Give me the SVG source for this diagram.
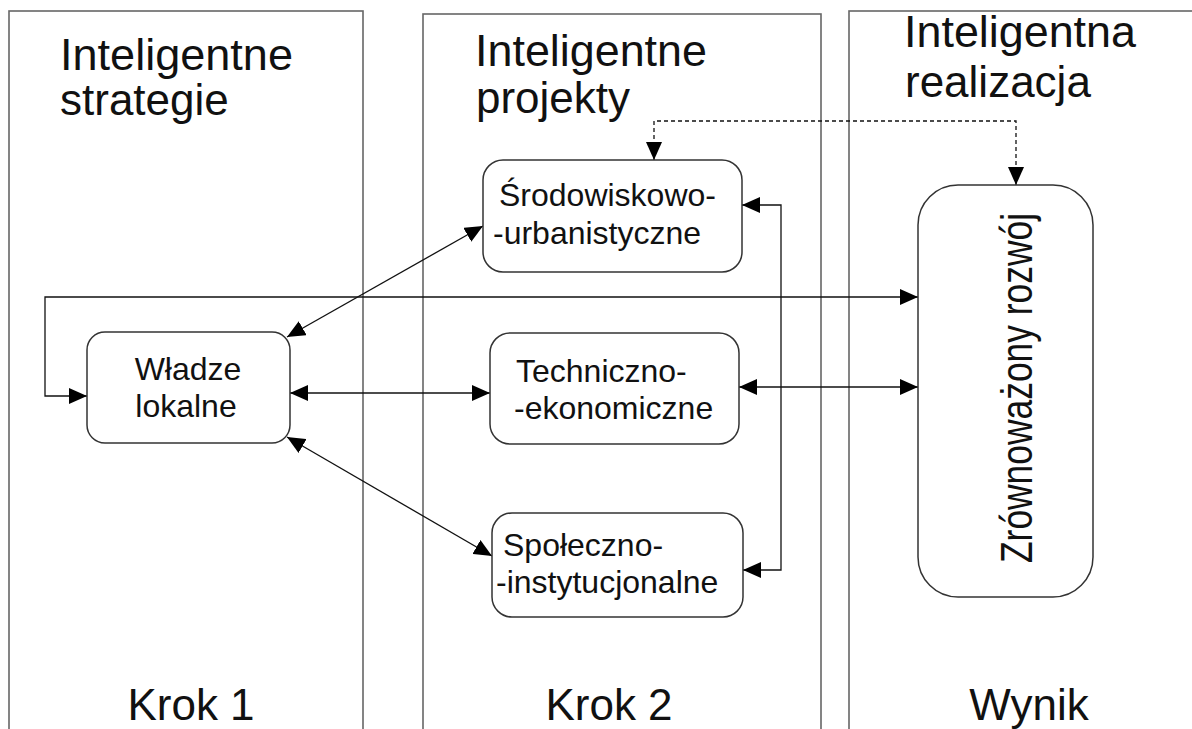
<svg xmlns="http://www.w3.org/2000/svg" width="1192" height="729" viewBox="0 0 1192 729">
<defs>
<marker id="ah" markerUnits="userSpaceOnUse" markerWidth="19" markerHeight="16" refX="18" refY="8" orient="auto-start-reverse" viewBox="0 0 19 16">
<path d="M0,0 L18,8 L0,16 z" fill="#000"/>
</marker>
<style>
.lane{fill:#fff;stroke:#666;stroke-width:1.6}
.node{fill:#fff;stroke:#333;stroke-width:1.5}
.hdr{font-family:"Liberation Sans",Arial,sans-serif;font-size:44px;fill:#111}
.lbl{font-family:"Liberation Sans",Arial,sans-serif;font-size:32px;fill:#111}
.con{fill:none;stroke:#111;stroke-width:1.3;marker-start:url(#ah);marker-end:url(#ah)}
.dash{stroke-dasharray:4 3}
</style>
</defs>
<rect width="1192" height="729" fill="#fff"/>
<g id="lanes">
<g id="lane1">
<rect class="lane" x="9" y="11" width="354" height="740"/>
<text class="hdr" x="60" y="70" textLength="233" lengthAdjust="spacingAndGlyphs">Inteligentne</text>
<text class="hdr" x="60" y="115">strategie</text>
<text class="hdr" x="191" y="720" text-anchor="middle">Krok 1</text>
</g>
<g id="lane2">
<rect class="lane" x="423" y="14" width="398" height="740"/>
<text class="hdr" x="475" y="66" textLength="232" lengthAdjust="spacingAndGlyphs">Inteligentne</text>
<text class="hdr" x="476" y="113">projekty</text>
<text class="hdr" x="609" y="720" text-anchor="middle">Krok 2</text>
</g>
<g id="lane3">
<rect class="lane" x="849" y="11" width="360" height="740"/>
<text class="hdr" x="904" y="47" textLength="232" lengthAdjust="spacingAndGlyphs">Inteligentna</text>
<text class="hdr" x="905" y="97">realizacja</text>
<text class="hdr" x="1029" y="720" text-anchor="middle">Wynik</text>
</g>
</g>
<g id="connectors">
<path class="con dash" d="M654,160 V121 H1016 V185"/>
<path class="con" d="M287,337 L483,226"/>
<path class="con" d="M918,297 H45 V396 H87"/>
<path class="con" d="M290,393 H490"/>
<path class="con" d="M739,387 H918"/>
<path class="con" d="M287,437 L492,556"/>
<path class="con" d="M742,205 H781 V570 H743"/>
</g>
<g id="wladze">
<rect class="node" x="87" y="332" width="203" height="111" rx="18"/>
<text class="lbl" x="188" y="380" text-anchor="middle">Władze</text>
<text class="lbl" x="186" y="417" text-anchor="middle">lokalne</text>
</g>
<g id="srodowiskowo">
<rect class="node" x="483" y="160" width="259" height="112" rx="20"/>
<text class="lbl" x="499" y="206">Środowiskowo-</text>
<text class="lbl" x="493" y="244">-urbanistyczne</text>
</g>
<g id="techniczno">
<rect class="node" x="490" y="333" width="249" height="111" rx="20"/>
<text class="lbl" x="516" y="382">Techniczno-</text>
<text class="lbl" x="514" y="419">-ekonomiczne</text>
</g>
<g id="spoleczno">
<rect class="node" x="492" y="513" width="251" height="104" rx="20"/>
<text class="lbl" x="503" y="556">Społeczno-</text>
<text class="lbl" x="496" y="593">-instytucjonalne</text>
</g>
<g id="zrownowazony">
<rect class="node" x="918" y="185" width="175" height="412" rx="40"/>
<text class="hdr" transform="translate(1032,388) rotate(-90)" x="0" y="0" text-anchor="middle" textLength="350" lengthAdjust="spacingAndGlyphs">Zrównoważony rozwój</text>
</g>
</svg>
